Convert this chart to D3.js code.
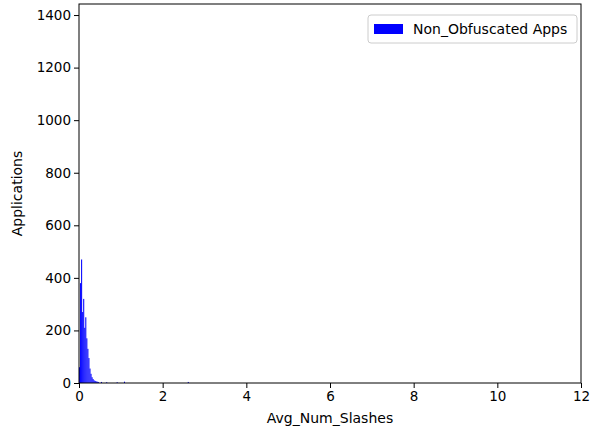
<!DOCTYPE html>
<html>
<head>
<meta charset="utf-8">
<script src="https://cdn.jsdelivr.net/npm/d3@7"></script>
<style>
  body { margin: 0; background: #fff; }
  text { font-family: "DejaVu Sans", sans-serif; }
</style>
</head>
<body>
<div id="chart"></div>
<script>
// histogram bins (lower edge) and counts
var binWidth = 0.025;
var binStarts = [0, 0.025, 0.05, 0.075, 0.1, 0.125, 0.15, 0.175, 0.2, 0.225, 0.25, 0.275,
    0.3, 0.325, 0.35, 0.375, 0.4, 0.425, 0.45, 0.525, 0.65, 0.9, 1.075, 2.6];
var counts = [60, 380, 470, 270, 320, 210, 250, 170, 130, 95, 55, 35,
    22, 15, 10, 8, 6, 5, 4, 4, 3, 3, 5, 4];
var xTicks = [0, 2, 4, 6, 8, 10, 12];
var yTicks = [0, 200, 400, 600, 800, 1000, 1200, 1400];
var seriesName = "Non_Obfuscated Apps";

var margin = { top: 4, right: 17, bottom: 50, left: 79 },
    width = 598 - margin.left - margin.right,
    height = 433 - margin.top - margin.bottom;

var x = d3.scaleLinear().domain([0, 12]).range([0, width]);
var y = d3.scaleLinear().domain([0, 1442]).range([height, 0]);

var svg = d3.select("#chart").append("svg")
    .attr("width", 598)
    .attr("height", 433)
    .append("g")
    .attr("transform", "translate(" + margin.left + "," + margin.top + ")");

var bins = binStarts.map(function (s, i) { return { x0: s, x1: s + binWidth, n: counts[i] }; });

// bars
svg.selectAll("rect.bar")
    .data(bins)
    .enter().append("rect")
    .attr("class", "bar")
    .attr("x", function (d) { return x(d.x0); })
    .attr("width", function (d) { return Math.max(0.8, x(d.x1) - x(d.x0)); })
    .attr("y", function (d) { return y(d.n); })
    .attr("height", function (d) { return height - y(d.n); })
    .style("fill", "#0000ff");

// axes
var xAxis = svg.append("g")
    .attr("transform", "translate(0," + height + ")")
    .call(d3.axisBottom(x).tickValues(xTicks).tickFormat(d3.format("d")).tickSize(5).tickPadding(3));
var yAxis = svg.append("g")
    .call(d3.axisLeft(y).tickValues(yTicks).tickFormat(d3.format("d")).tickSize(5).tickPadding(3));

[xAxis, yAxis].forEach(function (a) {
    a.select(".domain").remove();
    a.selectAll("text").style("font-size", "13.5px").style("fill", "#000")
        .style("font-family", "DejaVu Sans, sans-serif");
    a.selectAll("line").style("stroke", "#000");
});

// frame
svg.append("rect")
    .attr("x", 0).attr("y", 0)
    .attr("width", width).attr("height", height)
    .style("fill", "none").style("stroke", "#000").style("stroke-width", 1);

// labels
svg.append("text")
    .attr("x", width / 2)
    .attr("y", height + 40)
    .attr("text-anchor", "middle")
    .style("font-size", "14px")
    .text("Avg_Num_Slashes");

svg.append("text")
    .attr("transform", "rotate(-90)")
    .attr("x", -height / 2)
    .attr("y", -57)
    .attr("text-anchor", "middle")
    .style("font-size", "14px")
    .text("Applications");

// legend
var lg = svg.append("g").attr("transform", "translate(" + (width - 213) + ",11)");
lg.append("rect")
    .attr("width", 209).attr("height", 28).attr("rx", 3)
    .style("fill", "#fff").style("stroke", "#ccc");
lg.append("rect")
    .attr("x", 6).attr("y", 9).attr("width", 29).attr("height", 10)
    .style("fill", "#0000ff");
lg.append("text")
    .attr("x", 45).attr("y", 19)
    .style("font-size", "14px")
    .text(seriesName);
</script>
</body>
</html>
